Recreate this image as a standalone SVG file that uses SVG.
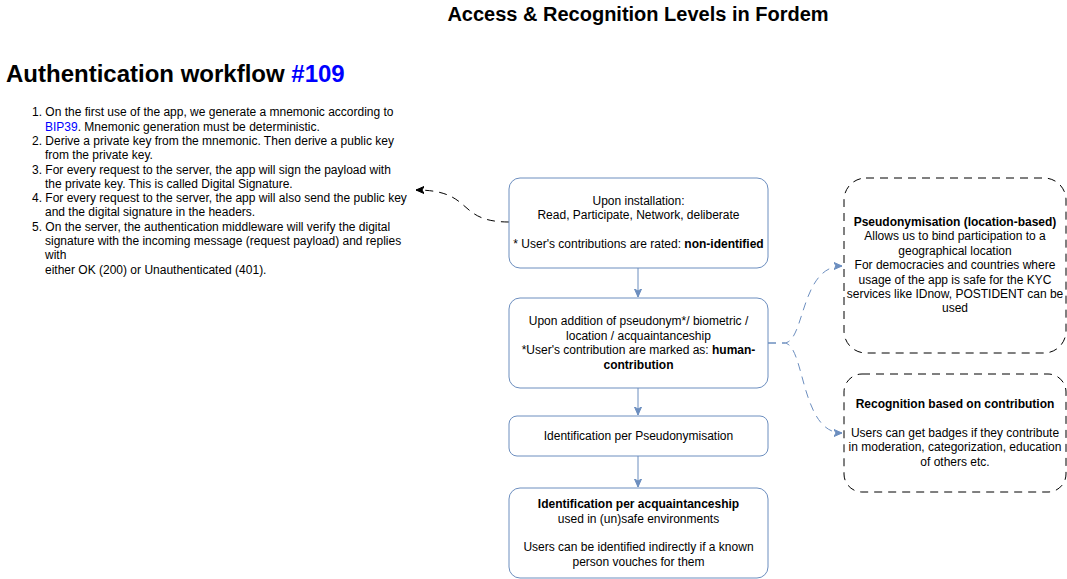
<svg xmlns="http://www.w3.org/2000/svg" width="1067" height="579" viewBox="0 0 1067 579">
<style>
text{font-family:"Liberation Sans",Arial,Helvetica,sans-serif;fill:#000}
.t{font-size:12px}
.c{text-anchor:middle}
.b{font-weight:bold}
.box{fill:#fff;stroke:#6c8ebf;stroke-width:1}
.dbox{fill:#fff;stroke:#000;stroke-width:1;stroke-dasharray:8 6}
.blue{fill:#0000ff}
.ln{fill:none;stroke:#6c8ebf;stroke-width:1}
.dl{fill:none;stroke:#6c8ebf;stroke-width:1;stroke-dasharray:8 6}
.kl{fill:none;stroke:#000;stroke-width:1;stroke-dasharray:8 6}
</style>
<defs>
<marker id="ab" markerWidth="10" markerHeight="10" refX="8" refY="5" orient="auto" markerUnits="userSpaceOnUse">
<path d="M0,1.5 L8,5 L0,8.5 L2,5 Z" fill="#6c8ebf" stroke="#6c8ebf"/>
</marker>
<marker id="ak" markerWidth="10" markerHeight="10" refX="8" refY="5" orient="auto" markerUnits="userSpaceOnUse">
<path d="M0,1.5 L8,5 L0,8.5 L2,5 Z" fill="#000" stroke="#000"/>
</marker>
</defs>
<rect width="1067" height="579" fill="#fff"/>

<g id="title">
<text x="638" y="21" class="c b" font-size="20">Access &amp; Recognition Levels in Fordem</text>
</g>

<g id="auth-text">
<text x="6" y="82" class="b" font-size="24">Authentication workflow <tspan class="blue">#109</tspan></text>
<g class="t">
<text x="32" y="116">1. On the first use of the app, we generate a mnemonic according to</text>
<text x="45" y="130.5"><tspan class="blue">BIP39</tspan>. Mnemonic generation must be deterministic.</text>
<text x="32" y="145">2. Derive a private key from the mnemonic. Then derive a public key</text>
<text x="45" y="159">from the private key.</text>
<text x="32" y="174">3. For every request to the server, the app will sign the payload with</text>
<text x="45" y="188">the private key. This is called Digital Signature.</text>
<text x="32" y="202">4. For every request to the server, the app will also send the public key</text>
<text x="45" y="216">and the digital signature in the headers.</text>
<text x="32" y="231">5. On the server, the authentication middleware will verify the digital</text>
<text x="45" y="245">signature with the incoming message (request payload) and replies</text>
<text x="45" y="259">with</text>
<text x="45" y="274">either OK (200) or Unauthenticated (401).</text>
</g>
</g>

<g id="connectors">
<path class="ln" d="M638,268 L638,297" marker-end="url(#ab)"/>
<path class="ln" d="M638,388 L638,415" marker-end="url(#ab)"/>
<path class="ln" d="M638,456 L638,487" marker-end="url(#ab)"/>
<path class="kl" d="M509,222 C455,222 475,190 416,190" marker-end="url(#ak)"/>
<path class="dl" d="M768,343 L784,343 C805,343 800,266 842,266" marker-end="url(#ab)"/>
<path class="dl" d="M768,343 L784,343 C805,343 800,433 842,433" marker-end="url(#ab)"/>
</g>

<g id="node-install">
<rect class="box" x="509" y="178" width="259" height="90" rx="11"/>
<text class="t c" x="638.5" y="205">Upon installation:</text>
<text class="t c" x="638.5" y="219">Read, Participate, Network, deliberate</text>
<text class="t c" x="638.5" y="248">* User's contributions are rated: <tspan class="b">non-identified</tspan></text>
</g>

<g id="node-addition">
<rect class="box" x="509" y="298" width="259" height="90" rx="11"/>
<text class="t c" x="638.5" y="325">Upon addition of pseudonym*/ biometric /</text>
<text class="t c" x="638.5" y="340">location / acquaintanceship</text>
<text class="t c" x="638.5" y="354">*User's contribution are marked as: <tspan class="b">human-</tspan></text>
<text class="t c b" x="638.5" y="369">contribution</text>
</g>

<g id="node-pseudo">
<rect class="box" x="509" y="416" width="259" height="40" rx="8"/>
<text class="t c" x="638.5" y="440">Identification per Pseudonymisation</text>
</g>

<g id="node-acq">
<rect class="box" x="509" y="488" width="259" height="90" rx="11"/>
<text class="t c b" x="638.5" y="508">Identification per acquaintanceship</text>
<text class="t c" x="638.5" y="523">used in (un)safe environments</text>
<text class="t c" x="638.5" y="551">Users can be identified indirectly if a known</text>
<text class="t c" x="638.5" y="566">person vouches for them</text>
</g>

<g id="node-location">
<rect class="dbox" x="844" y="178" width="222" height="175" rx="22"/>
<text class="t c b" x="955" y="226">Pseudonymisation (location-based)</text>
<text class="t c" x="955" y="240">Allows us to bind participation to a</text>
<text class="t c" x="955" y="255">geographical location</text>
<text class="t c" x="955" y="269">For democracies and countries where</text>
<text class="t c" x="955" y="284">usage of the app is safe for the KYC</text>
<text class="t c" x="955" y="298">services like IDnow, POSTIDENT can be</text>
<text class="t c" x="955" y="312">used</text>
</g>

<g id="node-recognition">
<rect class="dbox" x="844" y="374" width="222" height="118" rx="18"/>
<text class="t c b" x="955" y="408">Recognition based on contribution</text>
<text class="t c" x="955" y="437">Users can get badges if they contribute</text>
<text class="t c" x="955" y="451">in moderation, categorization, education</text>
<text class="t c" x="955" y="466">of others etc.</text>
</g>
</svg>
